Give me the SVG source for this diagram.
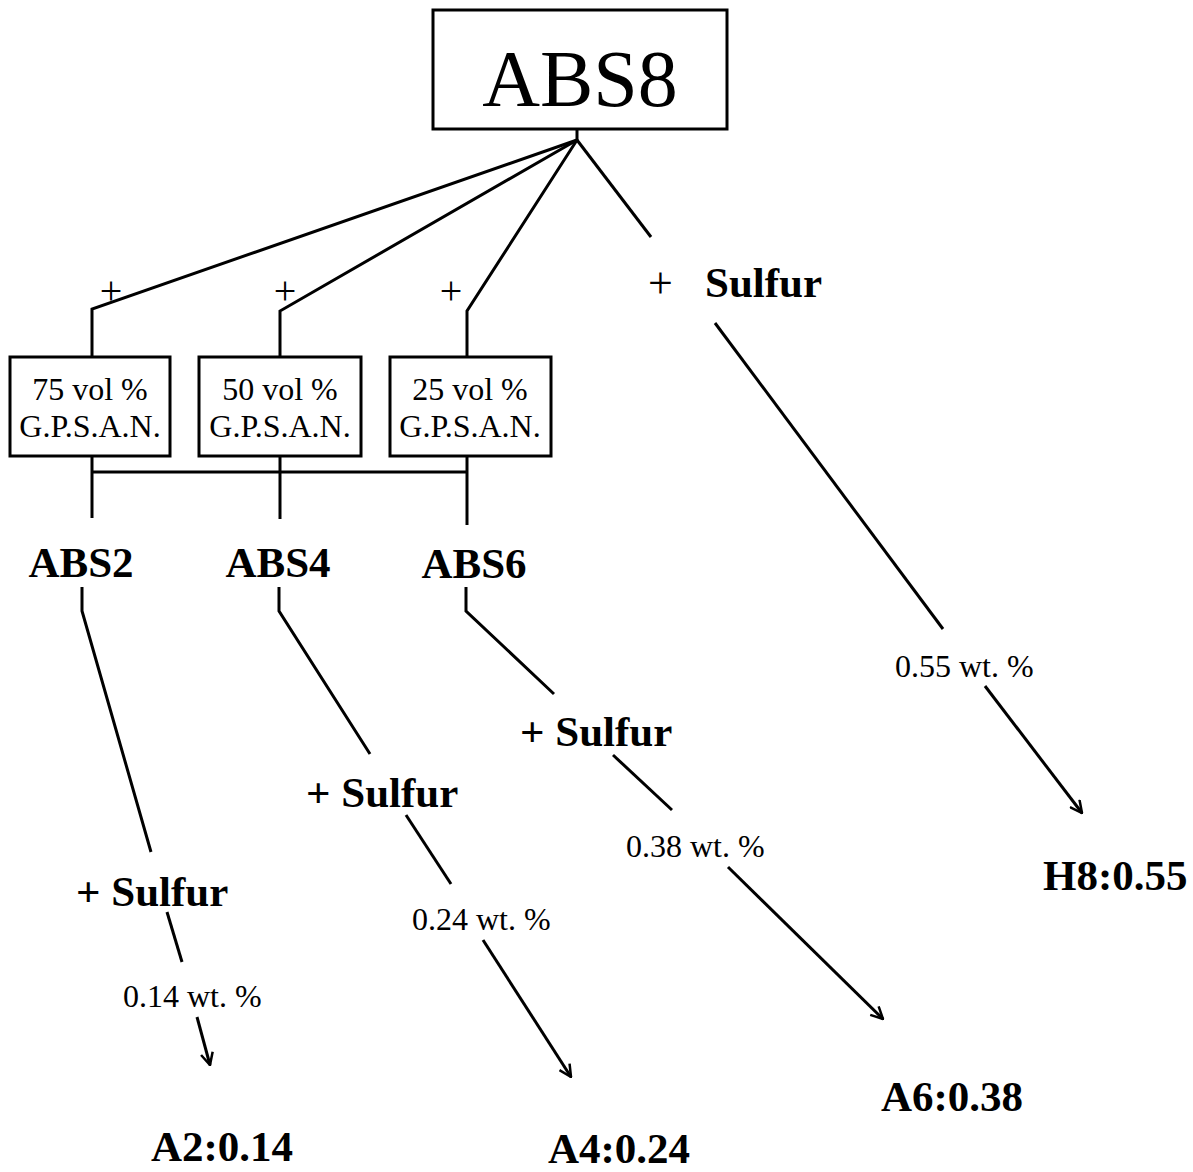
<svg xmlns="http://www.w3.org/2000/svg" width="1193" height="1172" viewBox="0 0 1193 1172">
<style>
.ln{fill:none;stroke:#000;stroke-width:3;stroke-linecap:butt;stroke-linejoin:miter}
.box{fill:#fff;stroke:#000;stroke-width:3}
.r{font-family:"Liberation Serif","Times New Roman",serif;fill:#000}
.b{font-family:"Liberation Serif","Times New Roman",serif;font-weight:bold;font-size:43px;fill:#000}
.s{font-size:32px}
</style>
<defs>
<marker id="ah" markerUnits="userSpaceOnUse" viewBox="0 0 14 14" markerWidth="14" markerHeight="14" refX="13" refY="7" orient="auto">
<path d="M1,1 L13,7 L1,13" fill="none" stroke="#000" stroke-width="2.5"/>
</marker>
</defs>
<rect width="1193" height="1172" fill="#fff"/>
<g id="connectors">
<path class="ln" d="M577,129 L577,140"/>
<path class="ln" d="M577,140 L92,309 L92,357"/>
<path class="ln" d="M577,140 L280,311 L280,357"/>
<path class="ln" d="M577,140 L467,311 L467,357"/>
<path class="ln" d="M577,140 L651,237"/>
<path class="ln" d="M92,456 L92,518"/>
<path class="ln" d="M280,456 L280,519"/>
<path class="ln" d="M467,456 L467,525"/>
<path class="ln" d="M92,472 L467,472"/>
<path class="ln" d="M82,587 L82,611 L151,852"/>
<path class="ln" d="M279,587 L279,611 L370,754"/>
<path class="ln" d="M466,587 L466,611 L554,694"/>
<path class="ln" d="M167,912 L182,962"/>
<path class="ln" d="M406,815 L451,884"/>
<path class="ln" d="M613,755 L672,810"/>
<path class="ln" d="M715,323 L943,629"/>
<path class="ln" d="M197,1017 L210,1065" marker-end="url(#ah)"/>
<path class="ln" d="M483,940 L571,1077" marker-end="url(#ah)"/>
<path class="ln" d="M728,867 L883,1019" marker-end="url(#ah)"/>
<path class="ln" d="M985,686 L1082,813" marker-end="url(#ah)"/>
</g>
<g id="abs8">
<rect class="box" x="433" y="10" width="294" height="119"/>
<text class="r" x="580" y="106" font-size="80" text-anchor="middle">ABS8</text>
</g>
<g id="plus-labels">
<text class="r" x="111" y="304" font-size="40" text-anchor="middle">+</text>
<text class="r" x="285" y="304" font-size="40" text-anchor="middle">+</text>
<text class="r" x="451" y="304" font-size="40" text-anchor="middle">+</text>
</g>
<g id="sulfur-top">
<text class="r" x="648" y="298" font-size="44">+</text>
<text class="b" x="705" y="297">Sulfur</text>
</g>
<g id="box75">
<rect class="box" x="10" y="357" width="160" height="99"/>
<text class="r s" x="90" y="400" text-anchor="middle">75 vol %</text>
<text class="r s" x="90" y="437" text-anchor="middle">G.P.S.A.N.</text>
</g>
<g id="box50">
<rect class="box" x="199" y="357" width="162" height="99"/>
<text class="r s" x="280" y="400" text-anchor="middle">50 vol %</text>
<text class="r s" x="280" y="437" text-anchor="middle">G.P.S.A.N.</text>
</g>
<g id="box25">
<rect class="box" x="390" y="357" width="161" height="99"/>
<text class="r s" x="470" y="400" text-anchor="middle">25 vol %</text>
<text class="r s" x="470" y="437" text-anchor="middle">G.P.S.A.N.</text>
</g>
<g id="abs2"><text class="b" x="81" y="577" text-anchor="middle">ABS2</text></g>
<g id="abs4"><text class="b" x="278" y="577" text-anchor="middle">ABS4</text></g>
<g id="abs6"><text class="b" x="474" y="578" text-anchor="middle">ABS6</text></g>
<g id="sulfur2"><text class="b" x="76" y="906">+ Sulfur</text></g>
<g id="sulfur4"><text class="b" x="306" y="807">+ Sulfur</text></g>
<g id="sulfur6"><text class="b" x="520" y="746">+ Sulfur</text></g>
<g id="wt014"><text class="r s" x="123" y="1007">0.14 wt. %</text></g>
<g id="wt024"><text class="r s" x="412" y="930">0.24 wt. %</text></g>
<g id="wt038"><text class="r s" x="626" y="857">0.38 wt. %</text></g>
<g id="wt055"><text class="r s" x="895" y="677">0.55 wt. %</text></g>
<g id="a2"><text class="b" x="151" y="1161">A2:0.14</text></g>
<g id="a4"><text class="b" x="548" y="1163">A4:0.24</text></g>
<g id="a6"><text class="b" x="881" y="1111">A6:0.38</text></g>
<g id="h8"><text class="b" x="1043" y="890">H8:0.55</text></g>
</svg>
